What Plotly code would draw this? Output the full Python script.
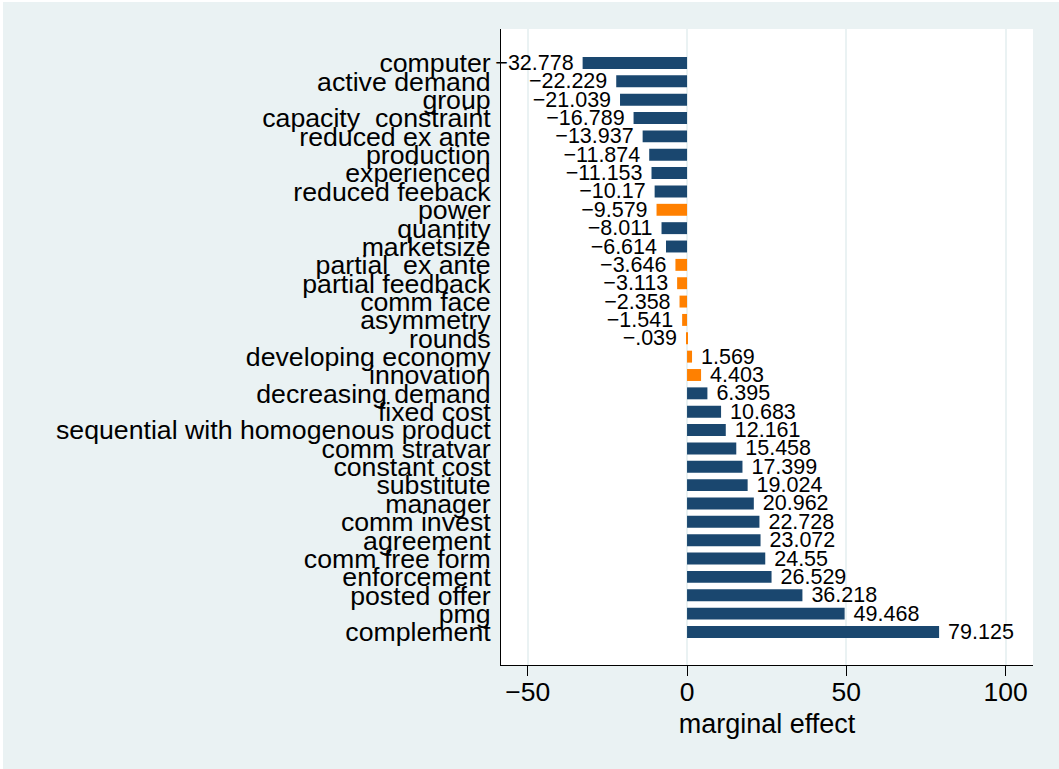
import plotly.graph_objects as go

categories = [
    "computer", "active demand", "group", "capacity  constraint", "reduced ex ante",
    "production", "experienced", "reduced feeback", "power", "quantity", "marketsize",
    "partial  ex ante", "partial feedback", "comm face", "asymmetry", "rounds",
    "developing economy", "innovation", "decreasing demand", "fixed cost",
    "sequential with homogenous product", "comm stratvar", "constant cost", "substitute",
    "manager", "comm invest", "agreement", "comm free form", "enforcement",
    "posted offer", "pmg", "complement",
]
values = [
    -32.778, -22.229, -21.039, -16.789, -13.937, -11.874, -11.153, -10.17, -9.579,
    -8.011, -6.614, -3.646, -3.113, -2.358, -1.541, -0.039, 1.569, 4.403, 6.395,
    10.683, 12.161, 15.458, 17.399, 19.024, 20.962, 22.728, 23.072, 24.55, 26.529,
    36.218, 49.468, 79.125,
]
highlighted = [
    "power", "partial  ex ante", "partial feedback", "comm face", "asymmetry",
    "rounds", "developing economy", "innovation",
]
x_ticks = [-50, 0, 50, 100]

NAVY = "#1a476f"
ORANGE = "#ff8000"
BG = "#eaf2f3"
FONT = "Liberation Sans, Arial"


def fmt(v):
    s = f"{v:g}"
    neg = s.startswith("-")
    s = s.lstrip("-")
    if s.startswith("0."):
        s = s[1:]
    return ("\u2212" if neg else "") + s


def bar_text(v):
    # small gap between the bar end and its label
    return fmt(v) + " " if v < 0 else " " + fmt(v)


colors = [ORANGE if c in highlighted else NAVY for c in categories]
texts = [bar_text(v) for v in values]

fig = go.Figure(
    go.Bar(
        y=categories,
        x=values,
        orientation="h",
        marker=dict(color=colors, line=dict(width=0)),
        width=0.65,
        text=texts,
        textposition="outside",
        constraintext="none",
        cliponaxis=False,
        textfont=dict(size=21.5, color="black", family=FONT),
        hoverinfo="skip",
    )
)

n = len(categories)
fig.update_layout(
    width=1059,
    height=769,
    paper_bgcolor=BG,
    plot_bgcolor="white",
    margin=dict(l=498, r=29, t=27, b=106),
    font=dict(family=FONT, size=26, color="black"),
    showlegend=False,
)
fig.update_xaxes(
    range=[-58.4, 108.6],
    tickmode="array",
    tickvals=x_ticks,
    ticktext=[fmt(t) for t in x_ticks],
    ticks="outside",
    ticklen=10,
    tickwidth=1,
    tickcolor="black",
    ticklabelstandoff=-7,
    showline=True,
    linecolor="black",
    linewidth=1,
    showgrid=True,
    gridcolor=BG,
    gridwidth=2,
    zeroline=False,
    tickfont=dict(size=26.5),
    title=dict(text="marginal effect", font=dict(size=27), standoff=8),
)
fig.update_yaxes(
    tickmode="array",
    tickvals=categories,
    ticktext=categories,
    categoryorder="array",
    categoryarray=categories,
    range=[n - 1 + 1.8, -1.85],
    showline=True,
    linecolor="black",
    linewidth=1,
    showgrid=False,
    ticks="",
    ticklabelstandoff=4,
    tickfont=dict(size=26.7),
)

fig.write_html(
    "out.html",
    post_script="document.body.style.margin='2px 0 0 3px';",
)
